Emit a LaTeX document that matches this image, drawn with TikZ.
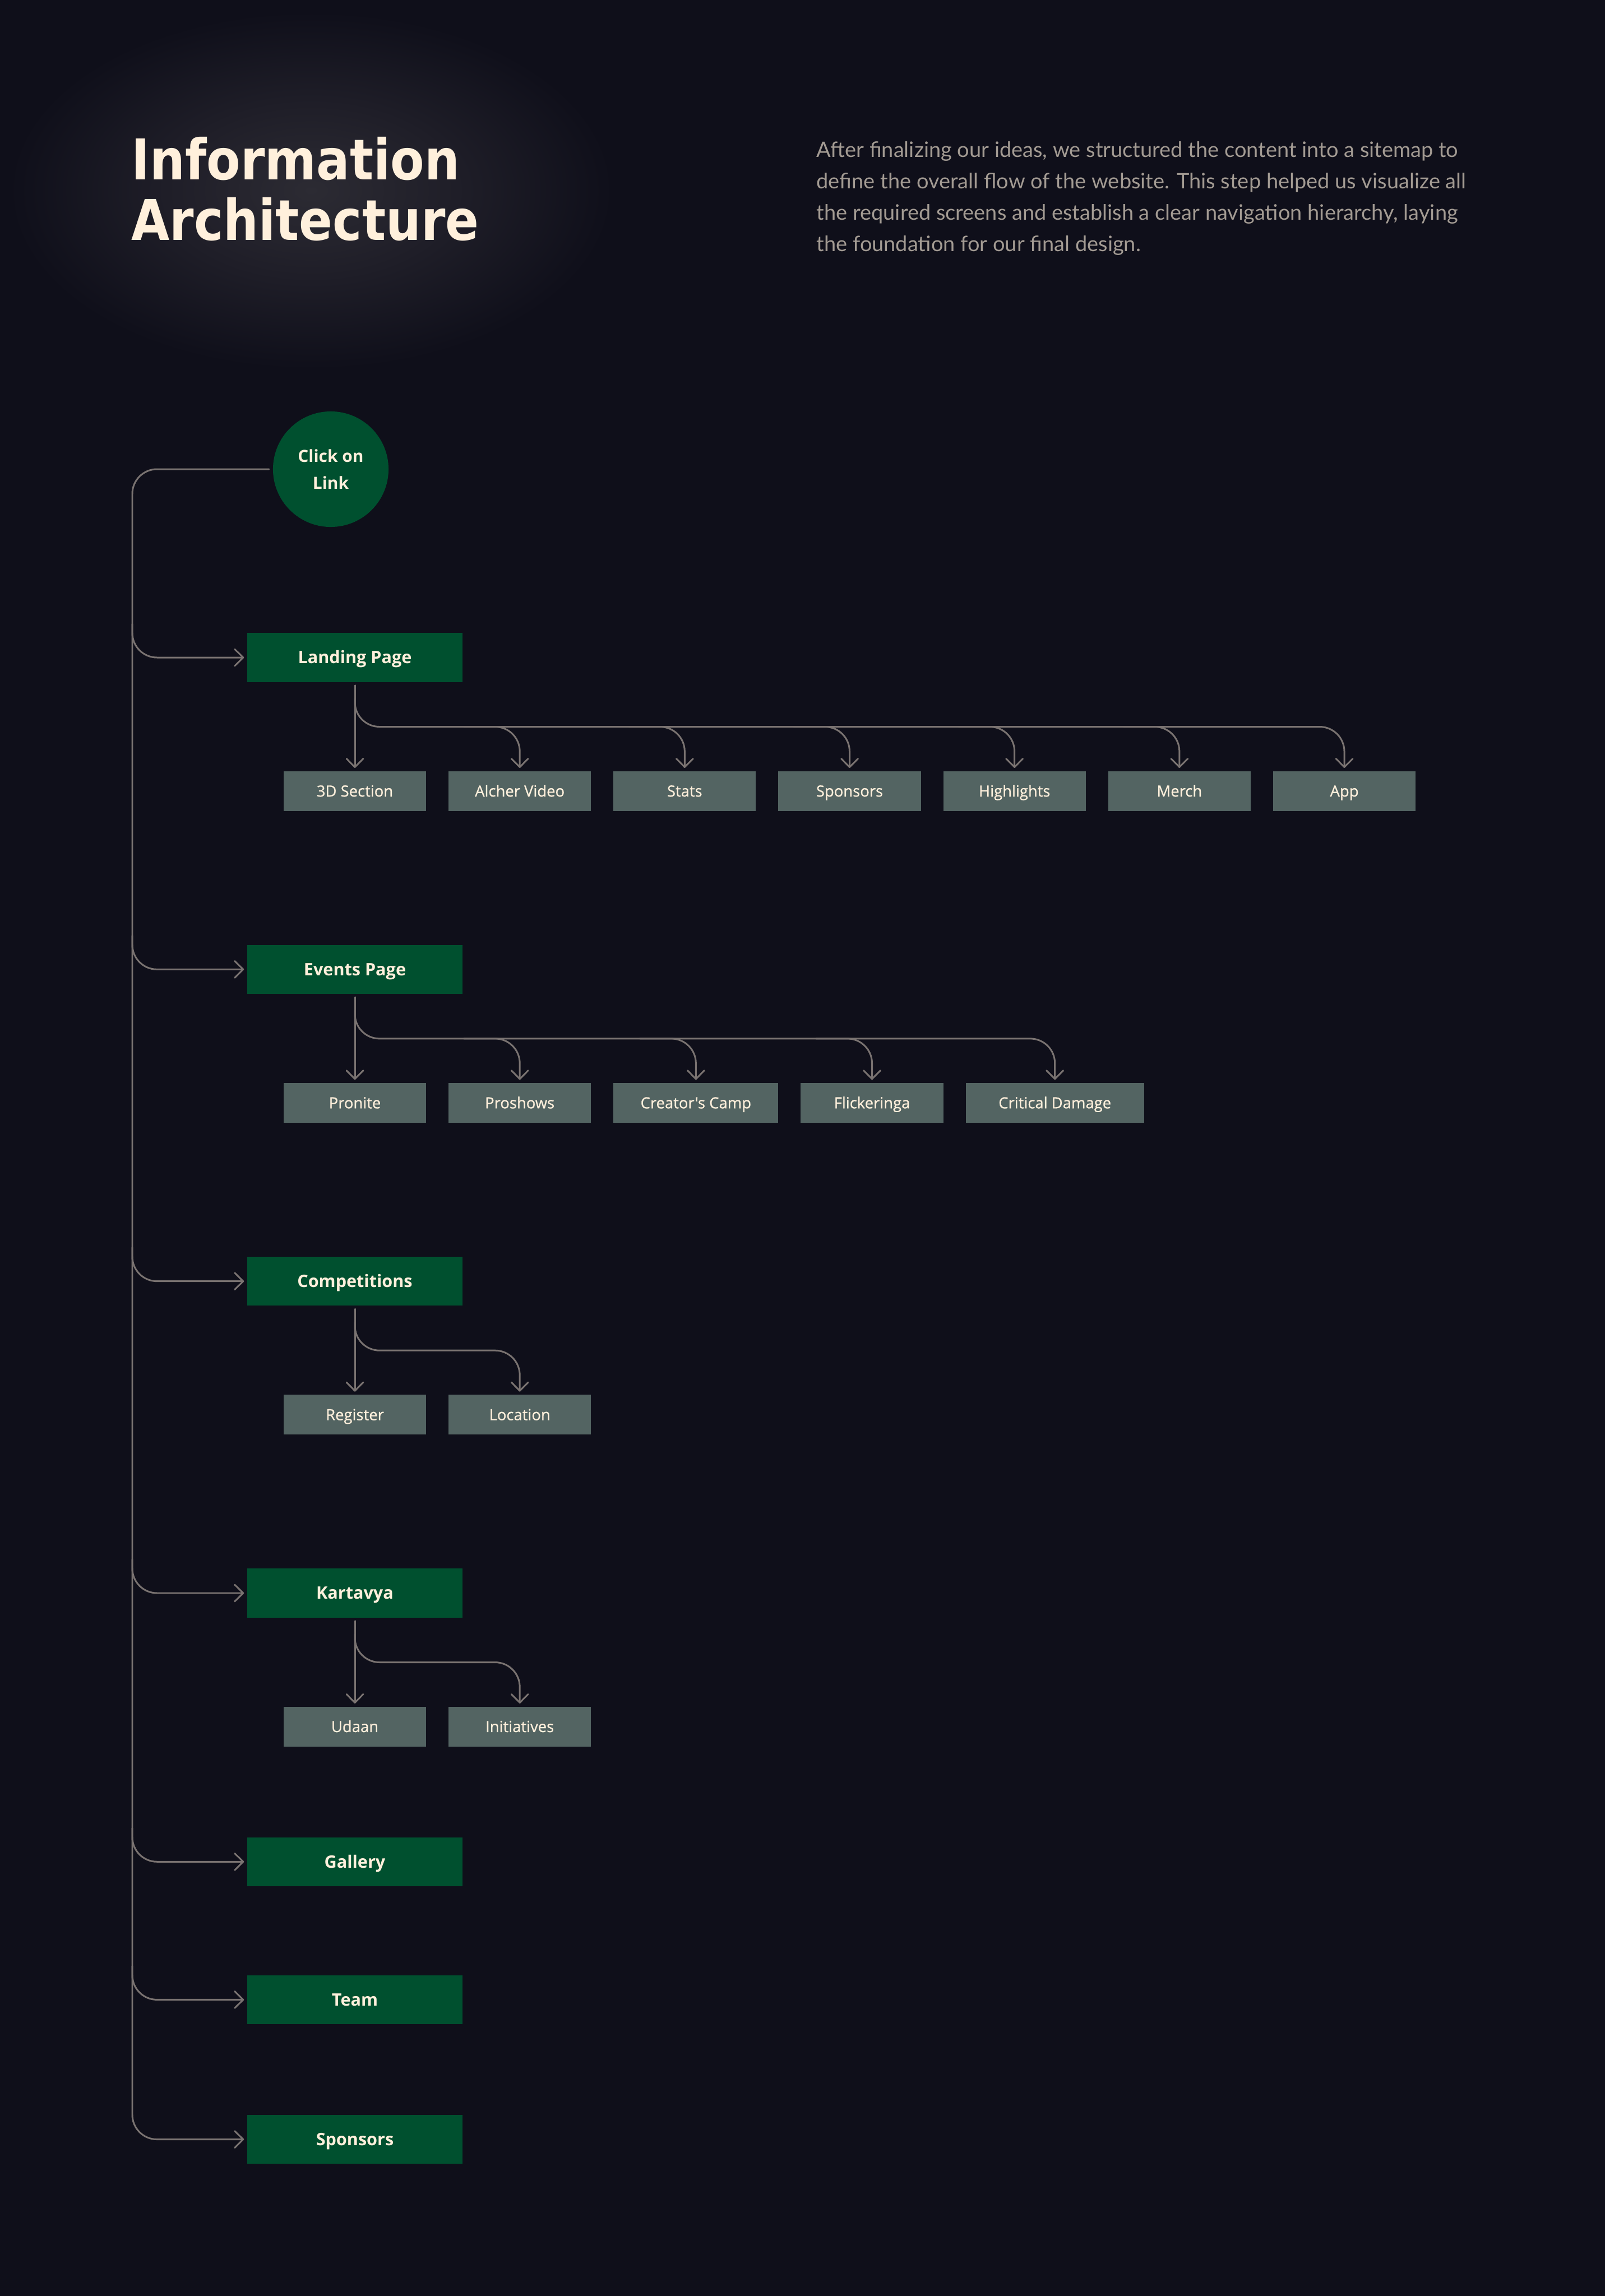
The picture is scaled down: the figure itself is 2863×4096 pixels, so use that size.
\documentclass[tikz,border=0pt]{standalone}
\usepackage{fontspec}
\setmainfont{Open Sans}
\newfontfamily\subfont[FakeBold=0.6]{Open Sans}
\newfontfamily\parafont{Lato}
\newfontfamily\titlefont{DejaVu Sans}
\usetikzlibrary{positioning,arrows.meta,calc}
\definecolor{bgcol}{HTML}{0F0F1A}
\definecolor{glowin}{HTML}{2C2B33}
\definecolor{glowmid}{HTML}{1F1E28}
\definecolor{pagegreen}{HTML}{00502F}
\definecolor{subgrey}{HTML}{536462}
\definecolor{linkgrey}{HTML}{7A7371}
\definecolor{cream}{HTML}{FFF0DC}
\definecolor{paragrey}{HTML}{A39B93}
\pgfdeclareradialshading{titleglow}{\pgfpoint{0bp}{0bp}}{color(0bp)=(glowin); color(12bp)=(glowmid); color(25bp)=(bgcol); color(50bp)=(bgcol)}

\begin{document}
\begin{tikzpicture}[
  x=0.01cm, y=-0.01cm,
  page/.style={fill=pagegreen, minimum width=3.84cm, minimum height=0.87cm, inner sep=0pt, outer sep=0pt, text height=6.2pt, text depth=0pt, text=cream, font=\fontsize{8.7}{10}\selectfont\bfseries},
  sub/.style={fill=subgrey, minimum width=2.54cm, minimum height=0.71cm, inner sep=0pt, outer sep=0pt, text height=5.6pt, text depth=0pt, text=cream, font=\subfont\fontsize{7.8}{9}\selectfont},
  start/.style={circle, fill=pagegreen, minimum size=2.06cm, inner sep=0pt, outer sep=0pt, align=center, text=cream, font=\fontsize{8.5}{13.7}\selectfont\bfseries},
  heading/.style={inner sep=0pt, text=cream, font=\titlefont\bfseries\fontsize{28.5}{30}\selectfont},
  link/.style={draw=linkgrey, line width=0.85pt, line cap=round, rounded corners=0.44cm},
  arr/.style={link, -{Straight Barb[length=4.3pt,width=8.5pt,round]}, shorten >=1.6pt},
  node distance=0.4cm
]
  \fill[bgcol] (0,0) rectangle (2863,4096);
  \useasboundingbox (0,0) rectangle (2863,4096);

  % title and intro
  \shade[shading=titleglow] (555,340) ellipse (5.4cm and 3.2cm);
  \node[heading, anchor=base west] (ttlone) at (234,320) {\scalebox{0.88}[1]{Information}};
  \node[heading, anchor=base west] (ttltwo) at (234,428) {\scalebox{0.88}[1]{Architecture}};
  \node[anchor=base west, align=left, inner sep=0pt, text=paragrey, font=\parafont\fontsize{10.8}{15.85}\selectfont] (intro) at (1456,448)
    {After finalizing our ideas, we structured the content into a sitemap to\\
     define the overall flow of the website. This step helped us visualize all\\
     the required screens and establish a clear navigation hierarchy, laying\\
     the foundation for our final design.};

  % main pages
  \node[start] (click) at (590,837) {Click on\\Link};
  \node[page] (land) at (633,1173) {Landing Page};
  \node[page, below=4.69cm of land] (events) {Events Page};
  \node[page, below=4.69cm of events] (comps) {Competitions};
  \node[page, below=4.69cm of comps] (kart) {Kartavya};
  \node[page, below=3.92cm of kart] (gallery) {Gallery};
  \node[page, below=1.59cm of gallery] (team) {Team};
  \node[page, below=1.62cm of team] (spons) {Sponsors};

  % sub pages
  \node[sub, below=1.59cm of land] (sec3d) {3D Section};
  \node[sub, right=of sec3d] (alcher) {Alcher Video};
  \node[sub, right=of alcher] (stats) {Stats};
  \node[sub, right=of stats] (lspons) {Sponsors};
  \node[sub, right=of lspons] (highl) {Highlights};
  \node[sub, right=of highl] (merch) {Merch};
  \node[sub, right=of merch] (app) {App};

  \node[sub, below=1.59cm of events] (pronite) {Pronite};
  \node[sub, right=of pronite] (proshows) {Proshows};
  \node[sub, right=of proshows, minimum width=2.94cm] (camp) {Creator's Camp};
  \node[sub, right=of camp] (flick) {Flickeringa};
  \node[sub, right=of flick, minimum width=3.18cm] (critdmg) {Critical Damage};

  \node[sub, below=1.59cm of comps] (register) {Register};
  \node[sub, right=of register] (location) {Location};

  \node[sub, below=1.59cm of kart] (udaan) {Udaan};
  \node[sub, right=of udaan] (initv) {Initiatives};

  \coordinate (rail) at (236,837);
  \coordinate (landbus) at ($(land.south)+(0,80)$);
  \coordinate (eventsbus) at ($(events.south)+(0,80)$);
  \coordinate (compsbus) at ($(comps.south)+(0,80)$);
  \coordinate (kartbus) at ($(kart.south)+(0,80)$);

  % left rail
  \draw[arr, shorten <=2pt] (click.west) -| (rail |- spons.west) -- (spons.west);
  \draw[arr] ($(rail |- land.west)+(0,-60)$) |- (land.west);
  \draw[arr] ($(rail |- events.west)+(0,-60)$) |- (events.west);
  \draw[arr] ($(rail |- comps.west)+(0,-60)$) |- (comps.west);
  \draw[arr] ($(rail |- kart.west)+(0,-60)$) |- (kart.west);
  \draw[arr] ($(rail |- gallery.west)+(0,-60)$) |- (gallery.west);
  \draw[arr] ($(rail |- team.west)+(0,-60)$) |- (team.west);

  % landing page
  \draw[arr, shorten <=1.7pt] (land.south) -- (sec3d.north);
  \draw[arr] ($(land.south)+(0,30)$) |- (landbus -| app.north) -- (app.north);
  \draw[arr] ($(landbus -| alcher.north)+(-100,0)$) -| (alcher.north);
  \draw[arr] ($(landbus -| stats.north)+(-100,0)$) -| (stats.north);
  \draw[arr] ($(landbus -| lspons.north)+(-100,0)$) -| (lspons.north);
  \draw[arr] ($(landbus -| highl.north)+(-100,0)$) -| (highl.north);
  \draw[arr] ($(landbus -| merch.north)+(-100,0)$) -| (merch.north);

  % events page
  \draw[arr, shorten <=1.7pt] (events.south) -- (pronite.north);
  \draw[arr] ($(events.south)+(0,30)$) |- (eventsbus -| critdmg.north) -- (critdmg.north);
  \draw[arr] ($(eventsbus -| proshows.north)+(-100,0)$) -| (proshows.north);
  \draw[arr] ($(eventsbus -| camp.north)+(-100,0)$) -| (camp.north);
  \draw[arr] ($(eventsbus -| flick.north)+(-100,0)$) -| (flick.north);

  % competitions
  \draw[arr, shorten <=1.7pt] (comps.south) -- (register.north);
  \draw[arr] ($(comps.south)+(0,30)$) |- (compsbus -| location.north) -- (location.north);

  % kartavya
  \draw[arr, shorten <=1.7pt] (kart.south) -- (udaan.north);
  \draw[arr] ($(kart.south)+(0,30)$) |- (kartbus -| initv.north) -- (initv.north);
\end{tikzpicture}
\end{document}
